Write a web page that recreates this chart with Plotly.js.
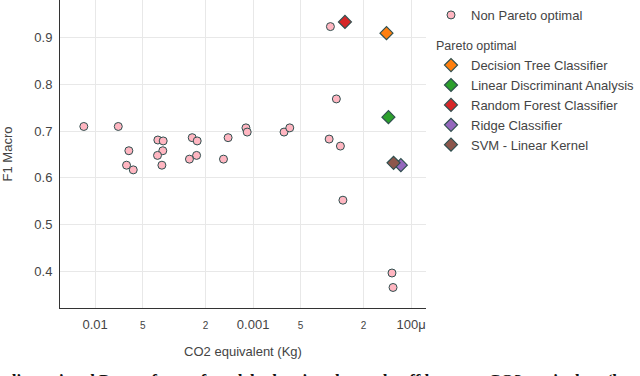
<!DOCTYPE html>
<html>
<head>
<meta charset="utf-8">
<script src="https://cdn.plot.ly/plotly-3.0.1.min.js"></script>
<style>
  html, body { margin: 0; padding: 0; background: #fff; }
  #chart { width: 640px; height: 376px; }
</style>
</head>
<body>
<div id="chart"></div>
<script>
// non pareto models: CO2 (kg) and F1 macro
const nonParetoCo2 = [
  0.0118, 0.00714, 0.00612, 0.00633, 0.00574,
  0.00401, 0.00371, 0.00373, 0.00403, 0.00378,
  0.00243, 0.00226, 0.00228, 0.00253, 0.00144, 0.00154,
  0.00111, 0.00109, 0.000637, 0.000586,
  0.000324, 0.000297, 0.000330, 0.000280, 0.000270,
  0.000132, 0.000130
];
const nonParetoF1 = [
  0.710, 0.710, 0.658, 0.627, 0.617,
  0.681, 0.679, 0.658, 0.648, 0.627,
  0.686, 0.679, 0.648, 0.640, 0.686, 0.640,
  0.707, 0.698, 0.698, 0.707,
  0.924, 0.769, 0.683, 0.668, 0.552,
  0.396, 0.365
];

const paretoNames = [
  "Decision Tree Classifier",
  "Linear Discriminant Analysis",
  "Random Forest Classifier",
  "Ridge Classifier",
  "SVM - Linear Kernel"
];
const paretoCo2 = [0.000143, 0.000139, 0.000262, 0.000116, 0.000129];
const paretoF1 = [0.910, 0.730, 0.934, 0.627, 0.632];
const paretoColors = ["#ff7f0e", "#2ca02c", "#d62728", "#9467bd", "#8c564b"];

const xTickVals = [0.01, 0.005, 0.002, 0.001, 0.0005, 0.0002, 0.0001];
const xTickText = ["0.01", "5", "2", "0.001", "5", "2", "100μ"];
const smallTicks = ["5", "2"];

const font = "Liberation Sans, Arial, sans-serif";

const traces = [{
  type: "scatter",
  mode: "markers",
  name: "Non Pareto optimal",
  legendgroup: "non",
  x: nonParetoCo2,
  y: nonParetoF1,
  marker: {
    symbol: "circle",
    size: 8,
    color: "#ffb6c1",
    line: {color: "#2f4f4f", width: 1}
  }
}];

paretoNames.forEach((name, i) => {
  traces.push({
    type: "scatter",
    mode: "markers",
    name: name,
    legendgroup: "pareto",
    legendgrouptitle: {text: "Pareto optimal", font: {size: 12.5, color: "#444"}},
    x: [paretoCo2[i]],
    y: [paretoF1[i]],
    marker: {
      symbol: "diamond",
      size: 10,
      color: paretoColors[i],
      line: {color: "#2f4f4f", width: 1.2}
    }
  });
});

const layout = {
  width: 640,
  height: 376,
  margin: {l: 60, r: 214, t: 0, b: 68},
  paper_bgcolor: "#fff",
  plot_bgcolor: "#fff",
  font: {family: font, size: 13, color: "#444"},
  xaxis: {
    type: "log",
    range: [Math.log10(0.0167), Math.log10(0.0000804)],
    tickvals: xTickVals,
    ticktext: xTickText.map(t => smallTicks.includes(t) ? '<span style="font-size:10px">' + t + '</span>' : t),
    showgrid: true,
    gridcolor: "#e8e8e8",
    showline: true,
    linecolor: "#333",
    linewidth: 1,
    zeroline: false,
    ticks: "",
    ticklabelstandoff: 4,
    title: {text: "CO2 equivalent (Kg)", font: {size: 13}, standoff: 16}
  },
  yaxis: {
    range: [0.321, 0.981],
    dtick: 0.1,
    tickformat: ".1f",
    showgrid: true,
    gridcolor: "#e8e8e8",
    showline: true,
    linecolor: "#333",
    linewidth: 1,
    zeroline: false,
    ticks: "",
    ticklabelstandoff: 4,
    title: {text: "F1 Macro", font: {size: 13}, standoff: 18}
  },
  legend: {
    x: 1.015,
    xanchor: "left",
    y: 1,
    yanchor: "top",
    font: {size: 13},
    tracegroupgap: 11
  },
  annotations: [{
    xref: "paper",
    yref: "paper",
    x: -0.15,
    y: -0.198,
    xanchor: "left",
    yanchor: "top",
    showarrow: false,
    text: "<b>dimensional Pareto front of models showing the trade-off between CO2 equivalent (lower is better) and</b>",
    font: {family: "Liberation Serif, Times New Roman, serif", size: 17, color: "#111"}
  }]
};

Plotly.newPlot("chart", traces, layout, {displayModeBar: false});
</script>
</body>
</html>
